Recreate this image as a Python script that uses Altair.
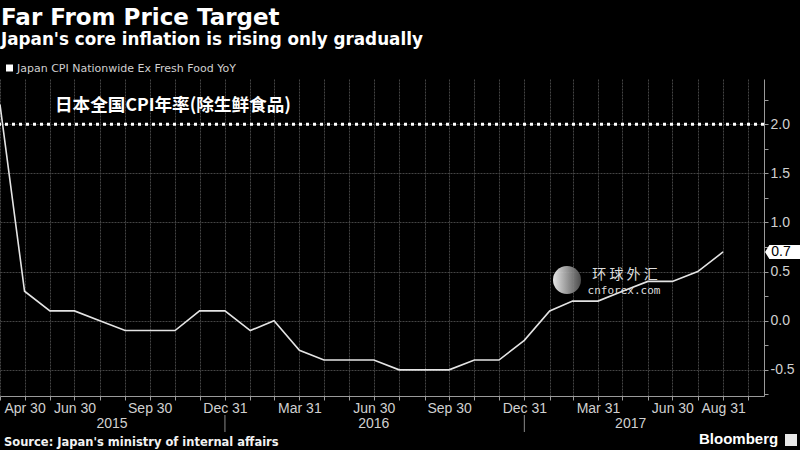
import calendar
import altair as alt
import pandas as pd

# ---------------- data ----------------
dates = [
    "2015-03-31", "2015-04-30", "2015-05-31", "2015-06-30", "2015-07-31", "2015-08-31",
    "2015-09-30", "2015-10-31", "2015-11-30", "2015-12-31", "2016-01-31", "2016-02-29",
    "2016-03-31", "2016-04-30", "2016-05-31", "2016-06-30", "2016-07-31", "2016-08-31",
    "2016-09-30", "2016-10-31", "2016-11-30", "2016-12-31", "2017-01-31", "2017-02-28",
    "2017-03-31", "2017-04-30", "2017-05-31", "2017-06-30", "2017-07-31", "2017-08-31",
]
cpi = [2.2, 0.3, 0.1, 0.1, 0.0, -0.1,
       -0.1, -0.1, 0.1, 0.1, -0.1, 0.0,
       -0.3, -0.4, -0.4, -0.4, -0.5, -0.5,
       -0.5, -0.4, -0.4, -0.2, 0.1, 0.2,
       0.2, 0.3, 0.4, 0.4, 0.5, 0.7]
target = [2.0]
labelled_months = ["2015-04", "2015-06", "2015-09", "2015-12", "2016-03", "2016-06",
                   "2016-09", "2016-12", "2017-03", "2017-06", "2017-08"]
years = ["2015", "2016", "2017"]
year_centres = ["2015-08-15", "2016-06-30", "2017-05-10"]
year_breaks = ["2015-12-31", "2016-12-31"]
y_ticks = [-0.75, -0.5, -0.25, 0.0, 0.25, 0.5, 0.75, 1.0, 1.25, 1.5, 1.75, 2.0, 2.25]

title = "Far From Price Target"
subtitle = "Japan's core inflation is rising only gradually"
legend_label = "Japan CPI Nationwide Ex Fresh Food YoY"
note_cn = "日本全国CPI年率(除生鲜食品)"
source = "Source: Japan's ministry of internal affairs"

# month-end tick positions, Mar 2015 .. Sep 2017
tick_values = []
for yr in (2015, 2016, 2017):
    for mo in range(1, 13):
        if (yr, mo) < (2015, 3) or (yr, mo) > (2017, 9):
            continue
        tick_values.append(alt.DateTime(year=yr, month=mo, date=calendar.monthrange(yr, mo)[1]))

df = pd.DataFrame({"date": [d + "T00:00:00" for d in dates], "cpi": cpi})
df_last = df.tail(1).assign(lbl=lambda d: d["cpi"].map(lambda v: f"{v:.1f}"))
df_target = pd.DataFrame({"v": target})
df_years = pd.DataFrame({"yr": years, "date": [d + "T00:00:00" for d in year_centres]})
df_breaks = pd.DataFrame({"date": [d + "T00:00:00" for d in year_breaks]})

LABEL_COLOR = "#d0d0d0"
GRID_COLOR = "#444444"

months_js = "[" + ",".join(f"'{m}'" for m in labelled_months) + "]"
x_scale = alt.Scale(domain=[alt.DateTime(year=2015, month=3, date=31),
                            alt.DateTime(year=2017, month=10, date=20)])
y_scale = alt.Scale(domain=[-0.766, 2.46], nice=False, zero=False)

x_axis = alt.Axis(
    title=None, values=tick_values, grid=True, gridColor=GRID_COLOR, gridDash=[2, 1],
    gridWidth=1, domainColor="#9a9a9a", tickColor="#9a9a9a", tickSize=4,
    labelExpr=f"indexof({months_js}, timeFormat(datum.value, '%Y-%m')) >= 0 ? timeFormat(datum.value, '%b %d') : ''",
    labelFont="Liberation Sans", labelFontSize=14, labelColor=LABEL_COLOR,
    labelOverlap=False, labelFlush=False, labelPadding=1,
)
half = "abs(datum.value * 2 - round(datum.value * 2)) < 0.001"
y_axis = alt.Axis(
    title=None, orient="right", values=y_ticks, grid=True, gridColor=GRID_COLOR,
    gridDash=[2, 1], gridWidth=1,
    gridOpacity={"condition": {"test": f"!({half})", "value": 0}, "value": 1},
    domainColor="#9a9a9a", tickColor="#9a9a9a", tickSize=4,
    labelExpr=f"{half} ? replace(format(datum.value, '.1f'), '\u2212', '-') : ''",
    labelFont="Liberation Sans", labelFontSize=14, labelColor=LABEL_COLOR,
    labelPadding=2, labelOverlap=False, labelFlush=False,
)

base = alt.Chart(df)
line = base.mark_line(color="#e4e4e4", strokeWidth=1.6).encode(
    x=alt.X("date:T", scale=x_scale, axis=x_axis),
    y=alt.Y("cpi:Q", scale=y_scale, axis=y_axis),
)

target_rule = alt.Chart(df_target).mark_rule(
    color="white", strokeWidth=3, strokeDash=[3, 4]
).encode(y=alt.Y("v:Q", scale=y_scale, axis=y_axis))

last_box = alt.Chart(df_last).mark_point(
    shape="M-1,0L-0.75,-0.4L1,-0.4L1,0.4L-0.75,0.4Z", filled=True, color="white",
    opacity=1, size=1225,
).encode(x=alt.value(782.5), y=alt.Y("cpi:Q", scale=y_scale, axis=y_axis))
last_text = alt.Chart(df_last).mark_text(
    font="Liberation Sans", fontSize=14, color="black", align="center", baseline="middle",
).encode(x=alt.value(781), y=alt.Y("cpi:Q", scale=y_scale, axis=y_axis), text="lbl:N")

year_text = alt.Chart(df_years).mark_text(
    font="Liberation Sans", fontSize=14, color=LABEL_COLOR, align="center",
    baseline="alphabetic",
).encode(x=alt.X("date:T", scale=x_scale, axis=x_axis), y=alt.value(349), text="yr:N")
year_sep = alt.Chart(df_breaks).mark_rule(color="#8a8a8a", strokeWidth=1).encode(
    x=alt.X("date:T", scale=x_scale, axis=x_axis), y=alt.value(336), y2=alt.value(353)
)


def label(text, x, y, size, color="white", weight="normal", font="DejaVu Sans",
          align="left", baseline="alphabetic"):
    return alt.Chart(pd.DataFrame({"t": [text]})).mark_text(
        font=font, fontSize=size, fontWeight=weight, color=color, align=align,
        baseline=baseline,
    ).encode(x=alt.value(x), y=alt.value(y), text="t:N")


title_t = label(title, 1, -54, 23, weight="bold")
sub_t = label(subtitle, 1, -34, 16.8, weight="bold")
legend_sq = alt.Chart(pd.DataFrame({"t": [legend_label]})).mark_square(
    color="white", size=49, opacity=1
).encode(x=alt.value(9.5), y=alt.value(-11))
legend_t = label(legend_label, 17, -7.3, 11, color=LABEL_COLOR)
note_t = label(note_cn, 55, 26.5, 17.6, weight="bold", font="Noto Sans CJK SC",
               baseline="middle")
source_t = label(source, 4, 366.7, 11.5, weight="bold", color="#f2f2f2")
bbg_t = label("Bloomberg", 699, 365, 15, weight="bold", font="Liberation Sans")
bbg_icon = alt.Chart(pd.DataFrame({"t": ["icon"]})).mark_square(
    color="#e8e8e8", size=144, opacity=1, cornerRadius=2
).encode(x=alt.value(791), y=alt.value(361))

wm_logo = alt.Chart(pd.DataFrame({"t": ["logo"]})).mark_point(
    shape="circle", filled=True, size=784, opacity=0.9,
    color=alt.LinearGradient(
        gradient="linear", x1=0, y1=0, x2=1, y2=0,
        stops=[alt.GradientStop(color="#ffffff", offset=0),
               alt.GradientStop(color="#555555", offset=1)],
    ),
).encode(x=alt.value(567), y=alt.value(201))
wm_cn = label("环 球 外 汇", 625, 196, 14, color="#dddddd", font="Noto Sans CJK SC",
              align="center", baseline="middle")
wm_en = label("cnforex.com", 624, 212, 11, color="#dddddd", font="DejaVu Sans Mono",
              align="center", baseline="middle")

chart = alt.layer(
    line, target_rule, last_box, last_text, year_text, year_sep,
    title_t, sub_t, legend_sq, legend_t, note_t, source_t, bbg_t, bbg_icon,
    wm_logo, wm_cn, wm_en,
).properties(
    width=764, height=317,
    autosize=alt.AutoSizeParams(type="none"),
    padding={"left": 0, "top": 79, "right": 36, "bottom": 54},
    background="black",
).configure_view(stroke=None).configure_axis(labelOverlap=False)

chart.save("out.html", embed_options={"renderer": "svg", "actions": False})
